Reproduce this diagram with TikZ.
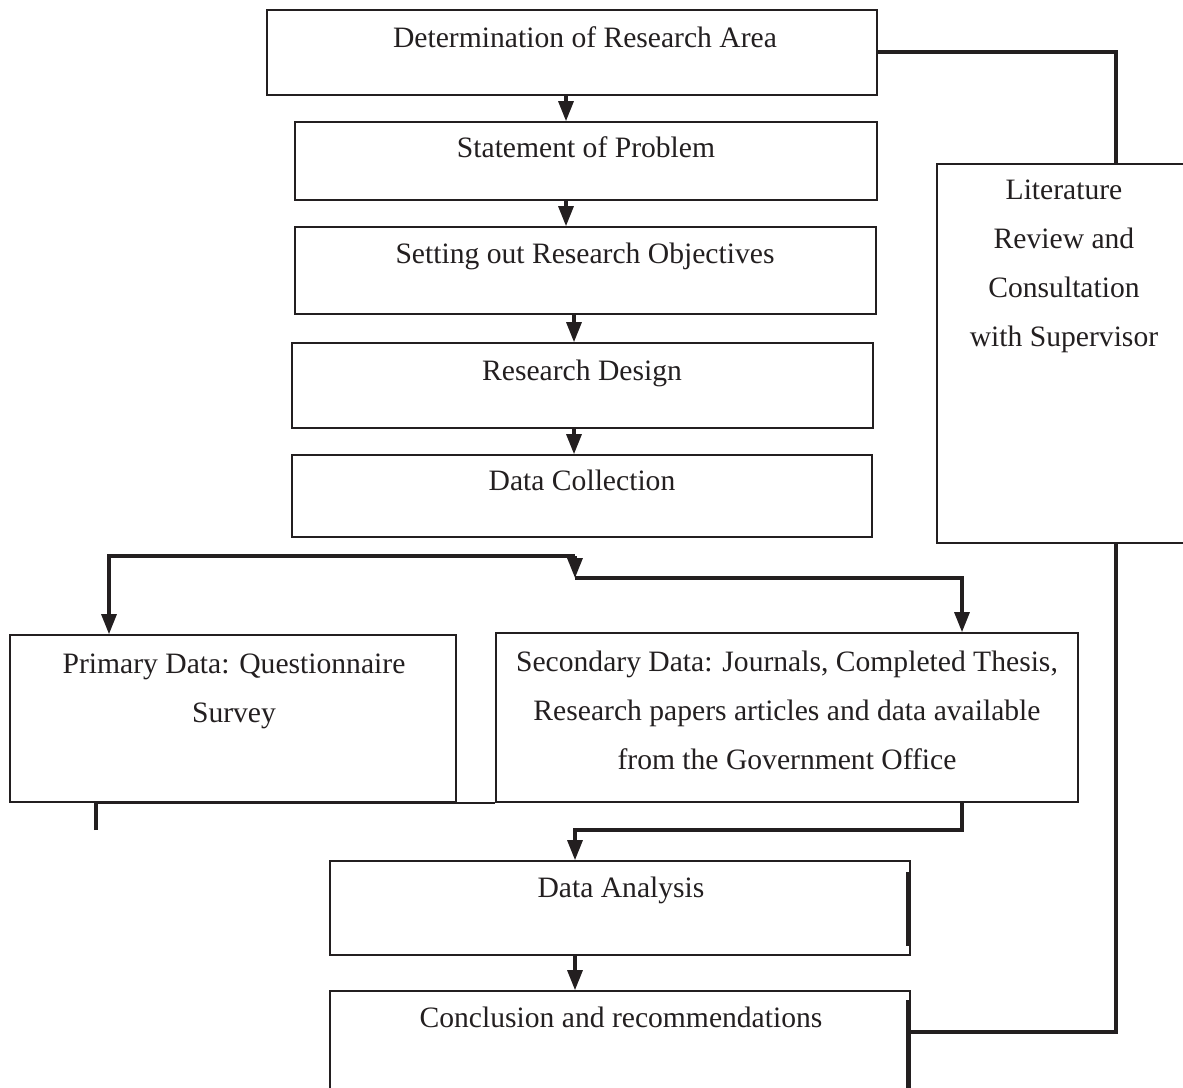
\documentclass[tikz,border=0pt]{standalone}
\usepackage{fontspec}
\setmainfont{Liberation Serif}
\usetikzlibrary{arrows.meta,fit}
\definecolor{ink}{HTML}{231F20}
\begin{document}
\begin{tikzpicture}[x=0.5pt,y=-0.5pt,
  boxnode/.style={draw=ink,line width=0.85pt,inner sep=0pt,fit={#1}},
  txt/.style={inner sep=0pt,anchor=base,align=center,text=ink,font=\fontsize{14.8}{24.5}\selectfont},
  conn/.style={draw=ink,line width=1.6pt},
  arr/.style={conn,-{Triangle[width=7.5pt,length=10pt]}}]
\useasboundingbox (0,0) rectangle (1183,1087);
% boxes
\node[boxnode={(267,10) (877,95)}] (b1) {};
\node[boxnode={(295,122) (877,200)}] (b2) {};
\node[boxnode={(295,227) (876,314)}] (b3) {};
\node[boxnode={(292,343) (873,428)}] (b4) {};
\node[boxnode={(292,455) (872,537)}] (b5) {};
\node[boxnode={(937,164) (1195,543)}] (lit) {};
\node[boxnode={(10,635) (456,802)}] (pri) {};
\node[boxnode={(496,633) (1078,802)}] (sec) {};
\node[boxnode={(330,861) (910,955)}] (da) {};
\node[boxnode={(330,991) (910,1095)}] (conc) {};
% texts (anchor=base gives the baseline of the last line)
\node[txt] (t1) at (585,47) {Determination of Research Area};
\node[txt] (t2) at (586,157) {Statement of Problem};
\node[txt] (t3) at (585,263) {Setting out Research Objectives};
\node[txt] (t4) at (582,380) {Research Design};
\node[txt] (t5) at (582,490) {Data Collection};
\node[txt] (tlit) at (1064,346) {Literature\\Review and\\Consultation\\with Supervisor};
\node[txt] (tpri) at (234,722) {Primary Data: Questionnaire\\Survey};
\node[txt] (tsec) at (787,769) {Secondary Data: Journals, Completed Thesis,\\Research papers articles and data available\\from the Government Office};
\node[txt] (tda) at (621,897) {Data Analysis};
\node[txt] (tconc) at (621,1027) {Conclusion and recommendations};
% helper coordinates
\coordinate (xa) at (566,0);
\coordinate (xb) at (574,0);
\coordinate (xc) at (575,0);
\coordinate (xe) at (908,0);
\coordinate (sL) at (109,556);
\coordinate (sM) at (575,556);
\coordinate (sR) at (575,578);
\coordinate (sR2) at (962,578);
\coordinate (stub) at (96,830);
\coordinate (jR) at (962,830);
\coordinate (jM) at (575,830);
\coordinate (lt) at (1116,52);
\coordinate (lb) at (1116,1032);
\coordinate (e1) at (0,872);
\coordinate (e2) at (0,946);
\coordinate (e3) at (0,1000);
% connectors
\draw[arr] (b1.south -| xa) -- (b2.north -| xa);
\draw[arr] (b2.south -| xa) -- (b3.north -| xa);
\draw[arr] (b3.south -| xb) -- (b4.north -| xb);
\draw[arr] (b4.south -| xb) -- (b5.north -| xb);
\draw[arr] (sM) -- (sL) -- (pri.north -| sL);
\draw[arr] (sM) -- (sR);
\draw[arr] (sR) -- (sR2) -- (sec.north -| sR2);
\draw[conn] (stub) -- (pri.south -| stub) -- (pri.south east);
\draw[draw=ink,line width=0.85pt] (pri.south east) -- (sec.south west);
\draw[arr] (sec.south -| jR) -- (jR) -- (jM) -- (da.north -| jM);
\draw[arr] (da.south -| xc) -- (conc.north -| xc);
\draw[conn] (e1 -| xe) -- (e2 -| xe);
\draw[conn] (e3 -| xe) -- (conc.south -| xe);
\draw[conn] (b1.east |- lt) -- (lt) -- (lit.north -| lt);
\draw[conn] (conc.east |- lb) -- (lb) -- (lit.south -| lb);
\end{tikzpicture}
\end{document}
